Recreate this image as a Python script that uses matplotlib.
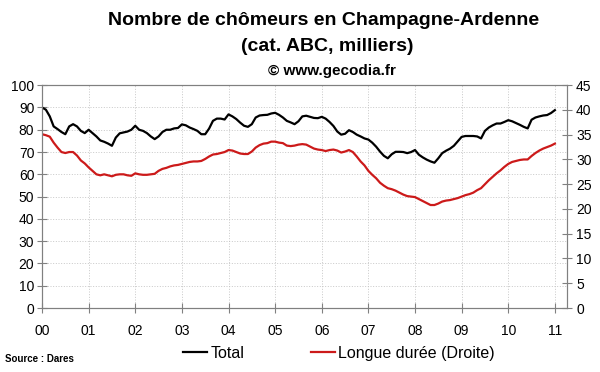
import matplotlib
matplotlib.use('Agg')
import matplotlib.pyplot as plt
from matplotlib.lines import Line2D
import numpy as np

plt.rcParams['font.family'] = ['Liberation Sans', 'DejaVu Sans']

# monthly values, Jan 2000 -> Jan 2011 (thousands)
total = [90, 89, 86, 81.5, 80.3, 79, 78, 81.5, 82.5, 81.5, 79.5, 78.5,
         80, 78.5, 77, 75.2, 74.6, 73.8, 72.8, 76.5, 78.4, 78.8, 79.2, 80,
         81.8, 80, 79.5, 78.5, 77, 75.8, 77, 79, 80, 80, 80.6, 80.8,
         82.4, 82, 81, 80.3, 79.5, 78, 78, 80.5, 84, 85, 85, 84.6,
         86.9, 86, 84.8, 83.2, 81.8, 81.3, 82.5, 85.5, 86.4, 86.6, 86.7, 87.3,
         87.6, 86.7, 85.5, 84, 83.3, 82.5, 83.8, 86, 86.3, 85.8, 85.3, 85.2,
         85.8, 85, 83.5, 81.7, 79.2, 77.8, 78.2, 79.8, 79, 77.8, 77, 76.1,
         75.6, 74.2, 72.4, 70.2, 68.3, 67.2, 69, 70.1, 70.1, 70, 69.5, 70,
         70.9, 68.8, 67.6, 66.6, 65.8, 65.2, 67.2, 69.5, 70.6, 71.5, 72.8, 74.8,
         76.8, 77.2, 77.2, 77.2, 77, 76.1, 79.5, 81, 82, 82.8, 82.8, 83.5,
         84.3, 83.8, 83, 82.2, 81.3, 80.6, 84.5, 85.5, 86, 86.4, 86.6, 87.5,
         88.8]
longue = [35.1, 34.9, 34.6, 33.4, 32.4, 31.5, 31.3, 31.5, 31.5, 30.8, 29.8, 29.2,
          28.4, 27.7, 27, 26.8, 27, 26.8, 26.6, 26.9, 27, 27, 26.8, 26.7,
          27.2, 27, 26.9, 26.9, 27, 27.1, 27.7, 28.1, 28.3, 28.6, 28.8, 28.9,
          29.1, 29.3, 29.5, 29.6, 29.6, 29.7, 30.1, 30.6, 31, 31.1, 31.3, 31.5,
          31.9, 31.8, 31.5, 31.2, 31.1, 31.1, 31.6, 32.4, 32.9, 33.2, 33.3, 33.6,
          33.6, 33.4, 33.3, 32.8, 32.7, 32.8, 33, 33.1, 33, 32.6, 32.2, 32,
          31.9, 31.7, 31.9, 32, 31.8, 31.4, 31.6, 31.9, 31.5, 30.6, 29.6, 28.8,
          27.7, 26.9, 26.2, 25.3, 24.7, 24.2, 24, 23.7, 23.3, 22.9, 22.6, 22.5,
          22.4, 22, 21.6, 21.2, 20.8, 20.8, 21.1, 21.5, 21.7, 21.8, 22, 22.2,
          22.5, 22.8, 23, 23.3, 23.8, 24.2, 25, 25.8, 26.5, 27.2, 27.8, 28.5,
          29.1, 29.5, 29.7, 29.9, 30, 30, 30.7, 31.3, 31.8, 32.2, 32.5, 32.8,
          33.2]
year_labels = ['00', '01', '02', '03', '04', '05', '06', '07', '08', '09', '10', '11']

months = np.arange(len(total)) / 12.0

fig = plt.figure(figsize=(6, 3.72), dpi=100)
ax = fig.add_axes([0.07, 0.172, 0.875, 0.599])
ax2 = ax.twinx()

ax.plot(months, total, color='black', lw=1.6)
ax2.plot(months, longue, color='#cc1a1a', lw=1.6)

ax.set_xlim(0, 11.26)
ax.set_ylim(0, 100)
ax2.set_ylim(0, 45)
ax.set_xticks(range(len(year_labels)))
ax.set_xticklabels(year_labels)
ax.set_yticks(range(0, 101, 10))
ax2.set_yticks(range(0, 46, 5))

ax.grid(True, color='#c0c0c0', linestyle=(0, (1.2, 2)), lw=0.6)
for a in (ax, ax2):
    a.tick_params(direction='inout', length=7, width=0.8, color='#808080',
                  labelsize=10, colors='black')
    for s in a.spines.values():
        s.set_color('#808080')
ax.tick_params(axis='x', pad=8)
ax.tick_params(axis='y', pad=2)
ax2.tick_params(axis='y', pad=3)

fig.text(0.54, 0.945, 'Nombre de chômeurs en Champagne-Ardenne', ha='center',
         va='center', fontsize=14, fontweight='bold')
fig.text(0.545, 0.875, '(cat. ABC, milliers)', ha='center', va='center',
         fontsize=14, fontweight='bold')
fig.text(0.553, 0.81, '© www.gecodia.fr', ha='center', va='center',
         fontsize=11, fontweight='bold')
fig.text(0.008, 0.036, 'Source : Dares', ha='left', va='center',
         fontsize=7, fontweight='bold')

handles = [Line2D([], [], color='black', lw=1.6),
           Line2D([], [], color='#cc1a1a', lw=1.6)]
fig.legend(handles, ['Total', 'Longue durée (Droite)'], loc='center',
           bbox_to_anchor=(0.565, 0.05), ncol=2, frameon=False, fontsize=11.5,
           handlelength=1.5, handletextpad=0.2, columnspacing=4.2)

fig.savefig('out.png', dpi=100)
